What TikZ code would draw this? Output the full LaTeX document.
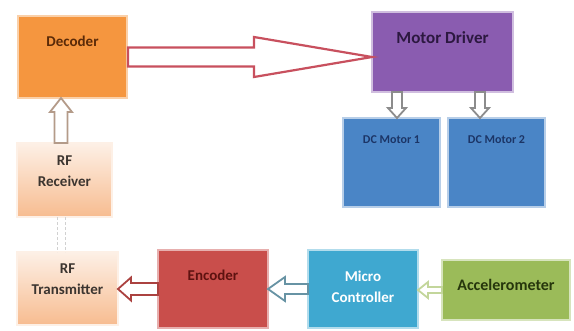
\documentclass[tikz,border=0pt]{standalone}
\usepackage{fontspec}
\setmainfont{Carlito}
\usepackage{xcolor}
\usepackage{tikz}
\usetikzlibrary{calc,positioning}

\definecolor{decfill}{HTML}{F5963F}
\definecolor{dectext}{HTML}{5A2A08}
\definecolor{drvfill}{HTML}{8A5CB0}
\definecolor{drvtext}{HTML}{2C1840}
\definecolor{motfill}{HTML}{4A85C6}
\definecolor{mottext}{HTML}{1C3566}
\definecolor{rftop}{HTML}{FDF0E6}
\definecolor{rfbot}{HTML}{F7BC90}
\definecolor{rftext}{HTML}{3C3530}
\definecolor{encfill}{HTML}{C94E4B}
\definecolor{enctext}{HTML}{5E1210}
\definecolor{mcufill}{HTML}{3FA8D0}
\definecolor{accfill}{HTML}{9BBB59}
\definecolor{acctext}{HTML}{26360C}
\definecolor{bigline}{HTML}{C8505E}

% hollow block arrow: colour, from, to, shaft half width, head half width, head length
\newcommand{\fatarrow}[6]{%
  \coordinate (fa-h) at ($(#3)!#6!(#2)$);
  \draw[line width=1.8pt, line join=miter, fill=white, #1]
    ($(#2)!#4!90:(#3)$) -- ($(fa-h)!#4!-90:(#2)$) -- ($(fa-h)!#5!-90:(#2)$)
    -- (#3) -- ($(fa-h)!#5!90:(#2)$) -- ($(fa-h)!#4!90:(#2)$)
    -- ($(#2)!#4!-90:(#3)$) -- cycle;
}

\begin{document}
\begin{tikzpicture}[
    x=1pt, y=-1pt,
    block/.style={rectangle, inner sep=0pt, outer sep=0pt, line width=0.5pt,
        double distance=1.4pt},
    boxtext/.style={font=\fontsize{15}{21}\selectfont\bfseries, align=center, anchor=center},
    rflink/.style={draw=black!18, line width=1.2pt, dash pattern=on 3pt off 2pt}
]
    \useasboundingbox[fill=white] (0,0) rectangle (574,330);

    % top row
    \node[block, draw=decfill!60!black!60, double=decfill!45!white, fill=decfill,
          minimum width=109pt, minimum height=82pt,
          label={[boxtext, text=dectext, yshift=-25pt]north:Decoder}] (dec) at (72.5,57) {};
    \node[block, draw=drvfill!60!black!60, double=drvfill!40!white, fill=drvfill,
          minimum width=141pt, minimum height=80pt,
          label={[boxtext, text=drvtext, font=\fontsize{17}{21}\selectfont\bfseries, yshift=-26pt]north:Motor Driver}] (mdrv) at (442.5,52) {};
    \node[block, draw=motfill!60!black!60, double=motfill!40!white, fill=motfill,
          minimum width=97pt, minimum height=89pt,
          label={[boxtext, text=mottext, font=\fontsize{12}{15}\selectfont\bfseries, yshift=-22pt]north:DC Motor 1}] (mot1) at (391.5,162.5) {};
    \node[block, draw=motfill!60!black!60, double=motfill!40!white, fill=motfill,
          minimum width=97pt, minimum height=89pt,
          label={[boxtext, text=mottext, font=\fontsize{12}{15}\selectfont\bfseries, yshift=-22pt]north:DC Motor 2}] (mot2) at (496.5,162.5) {};

    % left column
    \node[block, draw=rfbot!70!black!50, double=rftop, top color=rftop, bottom color=rfbot,
          minimum width=95pt, minimum height=74pt,
          label={[boxtext, text=rftext, yshift=-28pt]north:RF\\Receiver}] (rx) at (64.5,180) {};
    \node[block, draw=rfbot!70!black!50, double=rftop, top color=rftop, bottom color=rfbot,
          minimum width=101pt, minimum height=73pt,
          label={[boxtext, text=rftext, yshift=-27pt]north:RF\\Transmitter}] (tx) at (67.5,288.5) {};

    % bottom row
    \node[block, draw=encfill!60!black!60, double=encfill!45!white, fill=encfill,
          minimum width=110pt, minimum height=78pt,
          label={[boxtext, text=enctext, yshift=-25pt]north:Encoder}] (enc) at (213,289) {};
    \node[block, draw=mcufill!60!black!60, double=mcufill!40!white, fill=mcufill,
          minimum width=110pt, minimum height=78pt,
          label={[boxtext, text=white, yshift=-37pt]north:Micro\\Controller}] (mcu) at (363,289) {};
    \node[block, draw=accfill!60!black!60, double=accfill!40!white, fill=accfill,
          minimum width=128pt, minimum height=60pt,
          label={[boxtext, text=acctext, font=\fontsize{16}{21}\selectfont\bfseries, yshift=-25pt]north:Accelerometer}] (acc) at (506,290) {};

    % connectors
    \coordinate (d1) at ([xshift=1pt]dec.east);
    \coordinate (d2) at (dec.east -| mdrv.west);
    \fatarrow{draw=bigline, line width=2.2pt}{d1}{d2}{9.5pt}{20pt}{118pt}

    \coordinate (m1a) at ([xshift=5.5pt]mdrv.south -| mot1.north);
    \coordinate (m1b) at ([xshift=5.5pt]mot1.north);
    \fatarrow{draw=black!45}{m1a}{m1b}{5pt}{9pt}{10pt}
    \coordinate (m2a) at ([xshift=-16.5pt]mdrv.south -| mot2.north);
    \coordinate (m2b) at ([xshift=-16.5pt]mot2.north);
    \fatarrow{draw=black!45}{m2a}{m2b}{5pt}{9pt}{10pt}

    \coordinate (r1) at ([xshift=-3.5pt]rx.north);
    \coordinate (r2) at ([xshift=-3.5pt]rx.north |- dec.south);
    \fatarrow{draw=rfbot!60!black!70}{r1}{r2}{6.5pt}{11pt}{14pt}

    \draw[rflink] ([xshift=-7pt]rx.south) -- ([xshift=-7pt]rx.south |- tx.north);
    \draw[rflink] ([xshift=1pt]rx.south) -- ([xshift=1pt]rx.south |- tx.north);

    \coordinate (e1) at (enc.west);
    \coordinate (e2) at (enc.west -| tx.east);
    \fatarrow{draw=encfill!85!black}{e1}{e2}{6pt}{11.5pt}{13pt}

    \coordinate (c1) at (mcu.west);
    \coordinate (c2) at (mcu.west -| enc.east);
    \fatarrow{draw=mcufill!60!black!70}{c1}{c2}{5pt}{12pt}{17pt}

    \coordinate (a1) at (acc.west);
    \coordinate (a2) at (acc.west -| mcu.east);
    \fatarrow{draw=accfill!60!white}{a1}{a2}{3pt}{8pt}{10pt}
\end{tikzpicture}
\end{document}
